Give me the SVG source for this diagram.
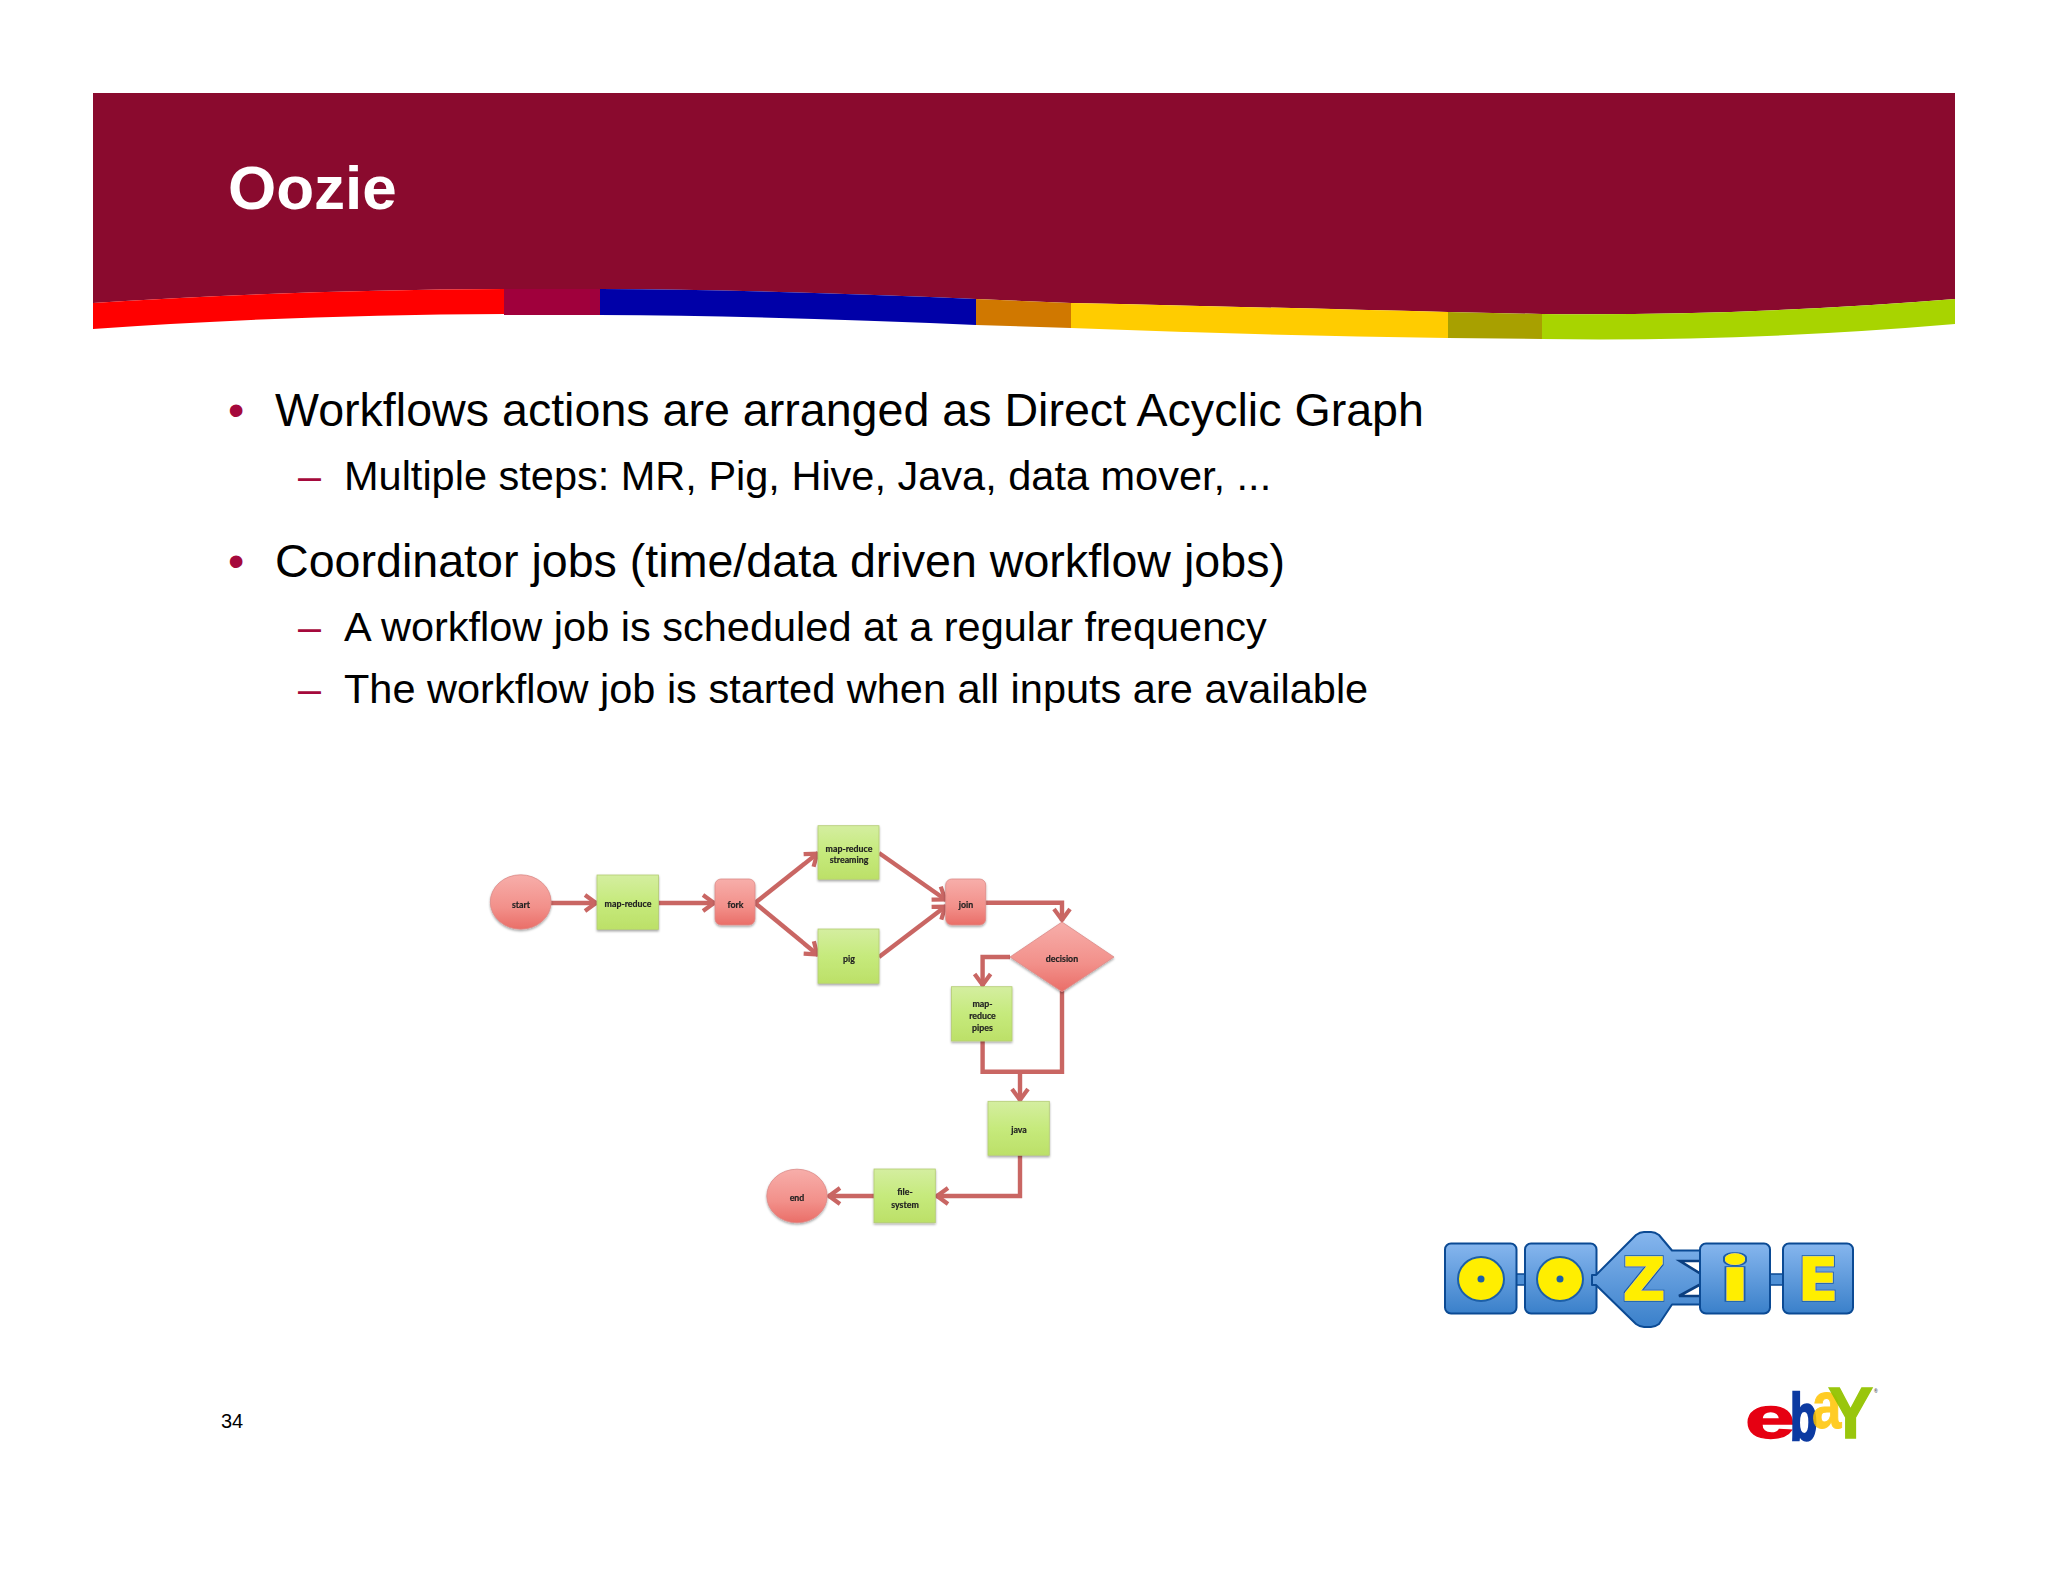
<svg xmlns="http://www.w3.org/2000/svg" width="2048" height="1582" viewBox="0 0 2048 1582">
<style>
text{font-family:"Liberation Sans",Arial,sans-serif}
.b1{font-size:46.6px;fill:#000}
.b2{font-size:41.5px;fill:#000}
.mk1{font-size:46.6px;fill:#a5093c}
.mk2{font-size:41.4px;fill:#a5093c}
.lbl{font-family:Lato,"Open Sans",sans-serif;font-weight:700;font-size:8.8px;fill:#222;stroke:#222;stroke-width:.2;text-anchor:middle}
.act{fill:url(#gGreen);stroke:#b4cc74;stroke-width:.8;filter:url(#shadow)}
.ctl{fill:url(#gRed);stroke:#dc8a88;stroke-width:.8;filter:url(#shadow)}
.con{fill:none;stroke:#c96664;stroke-width:4.4}
.arr{marker-end:url(#head)}
.blk{fill:url(#gBlue);stroke:#0b4a94;stroke-width:2;stroke-linejoin:round}
.yel{fill:#ffee00;stroke:#1c5fa8;stroke-width:2}
.ltr{font-family:"DejaVu Sans",sans-serif;font-weight:700;fill:#ffee00;stroke:#ffee00;stroke-width:1.6;text-anchor:middle;filter:url(#outline)}
.eb{font-family:"Liberation Sans",Arial,sans-serif;font-weight:700}
</style>
<defs>
<linearGradient id="gGreen" x1="0" y1="0" x2="0" y2="1"><stop offset="0" stop-color="#d4eea0"/><stop offset=".5" stop-color="#c6ea7c"/><stop offset="1" stop-color="#bce068"/></linearGradient>
<linearGradient id="gRed" x1="0" y1="0" x2="0" y2="1"><stop offset="0" stop-color="#f7aeaa"/><stop offset=".6" stop-color="#f2908a"/><stop offset="1" stop-color="#ea6e68"/></linearGradient>
<linearGradient id="gBlue" x1="0" y1="0" x2="0" y2="1"><stop offset="0" stop-color="#86b6ee"/><stop offset="1" stop-color="#3a80ca"/></linearGradient>
<filter id="shadow" x="-20%" y="-20%" width="140%" height="140%"><feDropShadow dx="0" dy="1.5" stdDeviation="1.2" flood-color="#000" flood-opacity=".35"/></filter>
<filter id="soft" filterUnits="userSpaceOnUse" x="470" y="800" width="680" height="450"><feGaussianBlur stdDeviation=".6"/></filter>
<filter id="outline" x="-30%" y="-30%" width="160%" height="160%"><feMorphology in="SourceAlpha" operator="dilate" radius="1.3" result="d"/><feFlood flood-color="#1c5fa8"/><feComposite in2="d" operator="in" result="o"/><feMerge><feMergeNode in="o"/><feMergeNode in="SourceGraphic"/></feMerge></filter>
<marker id="head" markerUnits="userSpaceOnUse" markerWidth="18" markerHeight="22" refX="15" refY="11" orient="auto"><path d="M3,3 L14,11 L3,19" fill="none" stroke="#c96664" stroke-width="4.2"/></marker>
</defs>
<rect width="2048" height="1582" fill="#fff"/>
<g id="banner">
<path d="M93,93H1955V299Q1745,316 1542,314L1448,312Q1250,307 1071,303L976,299Q780,290 600,289H504Q290,290 93,303Z" fill="#8a0a2e"/>
<path d="M93,303Q290,290 504,289V314Q290,315 93,329Z" fill="#ff0000"/>
<path d="M504,289H600V315H504Z" fill="#a0003c"/>
<path d="M600,289Q780,290 976,299V325Q780,316 600,315Z" fill="#0000a8"/>
<path d="M976,299L1071,303V328L976,325Z" fill="#d07800"/>
<path d="M1071,303Q1250,307 1448,312V338Q1250,335 1071,328Z" fill="#ffcc00"/>
<path d="M1448,312L1542,314V339L1448,338Z" fill="#a8a000"/>
<path d="M1542,314Q1745,316 1955,299V324Q1745,342 1542,339Z" fill="#a8d400"/>
<text x="228" y="209" font-size="62" font-weight="700" fill="#fff">Oozie</text>
</g>
<g id="bullets">
<text class="mk1" x="228" y="426">•</text>
<text class="b1" x="275" y="425.5">Workflows actions are arranged as Direct Acyclic Graph</text>
<text class="mk2" x="298" y="490">–</text>
<text class="b2" x="344" y="489.5">Multiple steps: MR, Pig, Hive, Java, data mover, ...</text>
<text class="mk1" x="228" y="577">•</text>
<text class="b1" x="275" y="576.5">Coordinator jobs (time/data driven workflow jobs)</text>
<text class="mk2" x="298" y="641">–</text>
<text class="b2" x="344" y="641">A workflow job is scheduled at a regular frequency</text>
<text class="mk2" x="298" y="703">–</text>
<text class="b2" x="344" y="703">The workflow job is started when all inputs are available</text>
</g>
<g id="flowchart" filter="url(#soft)">
<g id="connectors">
<path class="con arr" d="M551,903H597"/>
<path class="con arr" d="M658.6,903H715"/>
<path class="con arr" d="M755,903L818,853"/>
<path class="con arr" d="M755,903L818,955"/>
<path class="con arr" d="M879,853L946,900"/>
<path class="con arr" d="M879,957L946,906"/>
<path class="con arr" d="M985.6,902.7H1062V921"/>
<path class="con arr" d="M1010,957H982.6V986"/>
<path class="con" d="M982.6,1041V1071.7H1062V991"/>
<path class="con arr" d="M1020,1071.7V1101"/>
<path class="con arr" d="M1020,1155V1196H936"/>
<path class="con arr" d="M874,1196H828"/>
</g>
<g id="node-start"><ellipse class="ctl" cx="520.7" cy="902" rx="30.4" ry="27.2"/><text class="lbl" x="521" y="908">start</text></g>
<g id="node-map-reduce"><rect class="act" x="597" y="875" width="61.5" height="54.5"/><text class="lbl" x="628" y="907">map-reduce</text></g>
<g id="node-fork"><rect class="ctl" x="715" y="879" width="40" height="46" rx="6"/><text class="lbl" x="735.5" y="908">fork</text></g>
<g id="node-streaming"><rect class="act" x="818" y="825.7" width="61" height="53.6"/><text class="lbl" x="849" y="852">map-reduce</text><text class="lbl" x="849" y="863">streaming</text></g>
<g id="node-pig"><rect class="act" x="818" y="929" width="61" height="54.3"/><text class="lbl" x="849" y="962">pig</text></g>
<g id="node-join"><rect class="ctl" x="945.7" y="879" width="40" height="46" rx="6"/><text class="lbl" x="966" y="908">join</text></g>
<g id="node-decision"><path class="ctl" d="M1062,922L1114,957L1062,991.7L1010,957Z"/><text class="lbl" x="1062" y="962">decision</text></g>
<g id="node-pipes"><rect class="act" x="951.4" y="986.7" width="60.6" height="54.3"/><text class="lbl" x="982.5" y="1007">map-</text><text class="lbl" x="982.5" y="1019">reduce</text><text class="lbl" x="982.5" y="1031">pipes</text></g>
<g id="node-java"><rect class="act" x="988" y="1101.3" width="61.3" height="54"/><text class="lbl" x="1019" y="1133">java</text></g>
<g id="node-file-system"><rect class="act" x="874" y="1169" width="61.3" height="53.7"/><text class="lbl" x="905" y="1195">file-</text><text class="lbl" x="905" y="1208">system</text></g>
<g id="node-end"><ellipse class="ctl" cx="797" cy="1196" rx="30.2" ry="26.8"/><text class="lbl" x="797" y="1201">end</text></g>
</g>
<g id="oozie-logo">
<path d="M1514,1274H1528V1285H1514Z" fill="#4f90d6" stroke="#0b4a94" stroke-width="1.5"/>
<path d="M1766,1274H1786V1285H1766Z" fill="#4f90d6" stroke="#0b4a94" stroke-width="1.5"/>
<rect class="blk" x="1445" y="1243.5" width="71.5" height="70" rx="6"/>
<rect class="blk" x="1525" y="1243.5" width="71.5" height="70" rx="6"/>
<path class="blk" d="M1592,1275H1596L1636,1235Q1640,1232 1644,1232H1651Q1655,1232 1659,1235L1672,1250.5H1705V1304.5H1672L1659,1324Q1655,1327 1651,1327H1644Q1640,1327 1636,1324L1596,1285H1592Z"/>
<path d="M1680,1261H1701V1274ZM1679,1296H1701V1284Z" fill="#fff" stroke="#0b3f80" stroke-width="2.6"/>
<rect class="blk" x="1700" y="1243.5" width="70" height="70" rx="6"/>
<rect class="blk" x="1783" y="1243.5" width="70" height="70" rx="6"/>
<ellipse class="yel" cx="1481" cy="1279" rx="23" ry="22"/><circle cx="1481" cy="1279" r="3.5" fill="#1c5fa8"/>
<ellipse class="yel" cx="1560" cy="1279" rx="23" ry="22"/><circle cx="1560" cy="1279" r="3.5" fill="#1c5fa8"/>
<text class="ltr" x="1644" y="1300" font-size="58">Z</text>
<text class="ltr" transform="translate(1735,1300) scale(1.7,1)" style="font-family:Lato,sans-serif;font-weight:900" font-size="60">i</text>
<text class="ltr" x="1818" y="1300" font-size="58">E</text>
</g>
<g id="ebay-logo">
<text class="eb" transform="translate(1745,1438) scale(1.5,1)" font-size="60" fill="#e60012" stroke="#e60012" stroke-width="1.4">e</text>
<text class="eb" transform="translate(1790,1440) scale(.68,1)" font-size="66" fill="#00309c" stroke="#00309c" stroke-width="2.4" opacity=".95">b</text>
<text class="eb" transform="translate(1812,1428) scale(.8,1)" font-size="66" fill="#ffc400" stroke="#ffc400" opacity=".85">a</text>
<text class="eb" transform="translate(1828,1438) scale(.94,1)" font-size="72" fill="#94c300" stroke="#94c300" stroke-width="1.4" opacity=".95">Y</text>
<text class="eb" x="1874" y="1393" font-size="5" fill="#555">®</text>
</g>
<text id="page-number" x="221" y="1428" font-size="20" fill="#000">34</text>
</svg>
